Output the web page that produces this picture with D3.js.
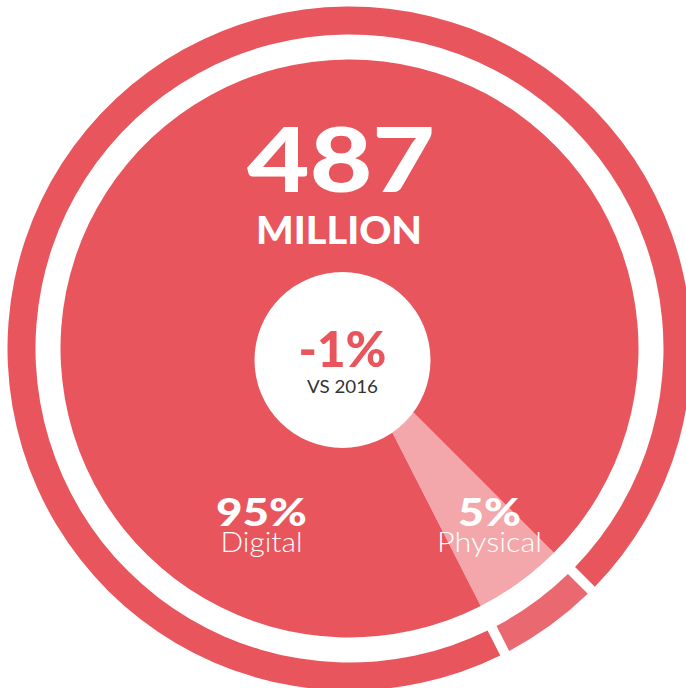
<!DOCTYPE html>
<html>
<head>
<meta charset="utf-8">
<script src="https://cdn.jsdelivr.net/npm/d3@7"></script>
<style>
  html, body { margin: 0; padding: 0; background: #fff; }
  svg { display: block; }
  text { font-family: "Lato", "Open Sans", sans-serif; }
</style>
</head>
<body>
<svg id="chart" width="686" height="688"></svg>
<script>
// Format split of total volume
const categories = ["Physical", "Digital"];
const shares = [5, 95];
const shareLabels = ["5%", "95%"];

// Headline figure
const totalValue = ["487"];
const totalUnit = ["MILLION"];
const changeLabel = ["-1%"];
const changeCaption = ["VS 2016"];

const svg = d3.select("#chart");
const cx = 349.5, cy = 348.5;

const colors = {
  disc: { Digital: "#E8555D", Physical: "#F3A7AB" },
  ring: { Digital: "#E8555D", Physical: "#EA6870" }
};

// Physical slice sits in the lower right, starting at ~135°
const pie = d3.pie()
  .sort(null)
  .value(d => d.value)
  .startAngle(135 * Math.PI / 180)
  .endAngle(135 * Math.PI / 180 + 2 * Math.PI);

const data = categories.map((c, i) => ({ name: c, value: shares[i], label: shareLabels[i] }));
const slices = pie(data);

const g = svg.append("g").attr("transform", `translate(${cx},${cy})`);

// Inner disc split into slices
const discArc = d3.arc().innerRadius(0).outerRadius(289);
g.selectAll("path.disc")
  .data(slices)
  .join("path")
  .attr("class", "disc")
  .attr("d", discArc)
  .attr("fill", d => colors.disc[d.data.name]);

// Outer ring split into slices with white gaps
const ringArc = d3.arc()
  .innerRadius(314)
  .outerRadius(342)
  .padRadius(328)
  .padAngle(10 / 328);
g.selectAll("path.ring")
  .data(slices)
  .join("path")
  .attr("class", "ring")
  .attr("d", ringArc)
  .attr("fill", d => colors.ring[d.data.name]);

// Central white badge with the year-on-year change
const badge = svg.append("g").attr("transform", "translate(342.5,360)");
badge.append("circle").attr("r", 88).attr("fill", "#fff");
badge.append("text")
  .attr("x", 0).attr("y", 7)
  .attr("text-anchor", "middle")
  .attr("font-size", 50)
  .attr("font-weight", 900)
  .attr("fill", "#E8555D")
  .attr("textLength", 88)
  .attr("lengthAdjust", "spacingAndGlyphs")
  .text(changeLabel[0]);
badge.append("text")
  .attr("x", 0).attr("y", 33)
  .attr("text-anchor", "middle")
  .attr("font-size", 17)
  .attr("font-weight", 400)
  .attr("fill", "#333")
  .attr("textLength", 71)
  .attr("lengthAdjust", "spacingAndGlyphs")
  .text(changeCaption[0]);

// Headline total
svg.append("text")
  .attr("x", 341).attr("y", 192)
  .attr("text-anchor", "middle")
  .attr("font-size", 90)
  .attr("font-weight", 900)
  .attr("fill", "#fff")
  .attr("textLength", 188)
  .attr("lengthAdjust", "spacingAndGlyphs")
  .text(totalValue[0]);
svg.append("text")
  .attr("x", 339).attr("y", 244)
  .attr("text-anchor", "middle")
  .attr("font-size", 37)
  .attr("font-weight", 900)
  .attr("fill", "#fff")
  .attr("textLength", 166)
  .attr("lengthAdjust", "spacingAndGlyphs")
  .text(totalUnit[0]);

// Slice labels
const labelPos = {
  Digital: { x: 261.5, y: 526, w1: 91, w2: 82 },
  Physical: { x: 489.5, y: 526, w1: 63, w2: 105 }
};
slices.forEach(s => {
  const p = labelPos[s.data.name];
  const lg = svg.append("g").attr("transform", `translate(${p.x},${p.y})`);
  lg.append("text")
    .attr("text-anchor", "middle")
    .attr("font-size", 38)
    .attr("font-weight", 900)
    .attr("fill", "#fff")
    .attr("textLength", p.w1)
    .attr("lengthAdjust", "spacingAndGlyphs")
    .text(s.data.label);
  lg.append("text")
    .attr("y", 26)
    .attr("text-anchor", "middle")
    .attr("font-size", 27)
    .attr("font-weight", 300)
    .attr("fill", "#fff")
    .attr("textLength", p.w2)
    .attr("lengthAdjust", "spacingAndGlyphs")
    .text(s.data.name);
});
</script>
</body>
</html>
